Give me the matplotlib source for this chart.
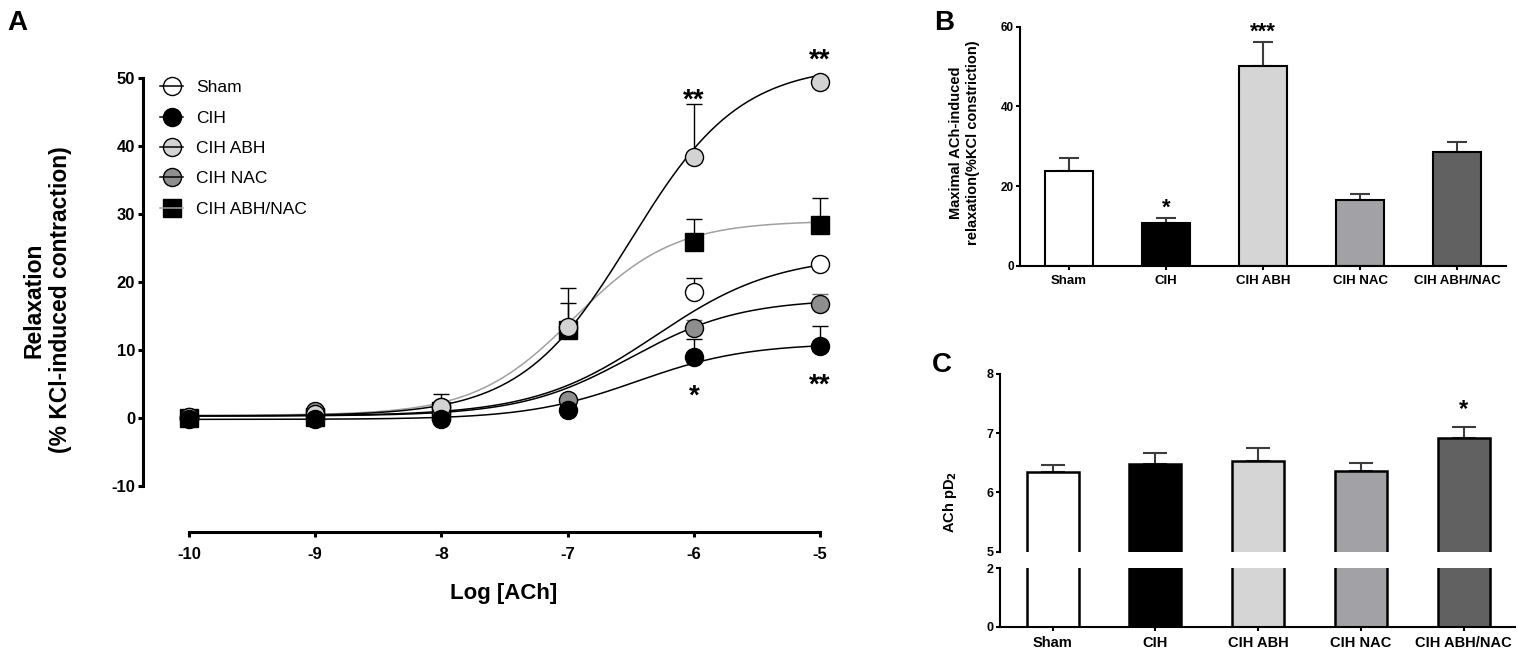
import numpy as np
import matplotlib
matplotlib.use('Agg')
import matplotlib.pyplot as plt
from matplotlib.lines import Line2D

plt.rcParams['font.family'] = ['Liberation Sans', 'DejaVu Sans']
plt.rcParams['axes.unicode_minus'] = False

# ---- data ----
groups = ['Sham', 'CIH', 'CIH ABH', 'CIH NAC', 'CIH ABH/NAC']
log_ach = [-10, -9, -8, -7, -6, -5]

relax_sham = [0.2, 0.5, 1.6, 13.3, 18.5, 22.7]
relax_cih = [-0.2, -0.2, -0.1, 1.2, 9.0, 10.6]
relax_abh = [0.1, 0.6, 1.6, 13.4, 38.4, 49.4]
relax_nac = [0.0, 1.0, 0.8, 2.7, 13.2, 16.8]
relax_abhnac = [0.0, 0.2, 1.0, 13.0, 25.9, 28.4]

err_sham = [0.3, 0.3, 0.5, 0.8, 2.1, 0.6]
err_cih = [0.3, 0.3, 0.3, 0.5, 2.6, 2.9]
err_abh = [0.3, 0.3, 1.9, 5.7, 7.8, 0.6]
err_nac = [0.3, 0.3, 0.3, 0.5, 1.2, 1.4]
err_abhnac = [0.3, 0.3, 0.3, 3.9, 3.4, 3.9]

# fitted sigmoid parameters: bottom, top, logEC50, hill slope
fit_sham = [0.3, 24.0, -6.3, 0.9]
fit_cih = [-0.2, 11.0, -6.45, 1.0]
fit_abh = [0.3, 52.0, -6.5, 1.0]
fit_nac = [0.3, 17.5, -6.5, 1.0]
fit_abhnac = [0.4, 29.0, -6.95, 1.1]

# significance marks in A: (series, log dose, stars, above?)
stars_a = [('abh', -6, '**', True), ('abh', -5, '**', True),
           ('cih', -6, '*', False), ('cih', -5, '**', False)]

max_relax = [23.8, 10.7, 50.1, 16.5, 28.7]
max_relax_err = [3.4, 1.4, 6.1, 1.6, 2.3]
stars_b = ['', '*', '***', '', '']

pd2 = [6.34, 6.48, 6.53, 6.36, 6.92]
pd2_err = [0.12, 0.18, 0.22, 0.13, 0.18]
stars_c = ['', '', '', '', '*']

bar_colors = ['white', 'black', '#d5d5d5', '#a2a2a6', '#616161']

W, H = 1518, 656
fig = plt.figure(figsize=(W / 100, H / 100), dpi=100)


def px_axes(l, t, r, b):
    return fig.add_axes([l / W, 1 - b / H, (r - l) / W, (b - t) / H])


def hill(x, p):
    bottom, top, ec50, slope = p
    return bottom + (top - bottom) / (1 + 10 ** ((ec50 - x) * slope))


def star(ax, x, y, s, fs):
    ax.annotate(s, xy=(x, y), xytext=(0, -0.57 * fs), textcoords='offset points',
                ha='center', va='baseline', fontsize=fs, fontweight='bold',
                annotation_clip=False)


def bold_ticks(ax):
    for t in ax.get_xticklabels() + ax.get_yticklabels():
        t.set_fontweight('bold')


# ---------------- panel A ----------------
ax = px_axes(143, 44, 839, 532)
ax.set_xlim(-10.364, -4.85)
ax.set_ylim(-16.76, 55)

series = {
    'sham': (relax_sham, err_sham, fit_sham, 'o', 'white', 'black', 'black', 3),
    'abhnac': (relax_abhnac, err_abhnac, fit_abhnac, 's', 'black', '#a0a0a0', 'black', 2),
    'nac': (relax_nac, err_nac, fit_nac, 'o', '#8e8e8e', 'black', '#6e6e6e', 4),
    'abh': (relax_abh, err_abh, fit_abh, 'o', '#d3d3d3', 'black', 'black', 5),
    'cih': (relax_cih, err_cih, fit_cih, 'o', 'black', 'black', 'black', 6),
}
xs = np.linspace(-10, -5, 300)
for key, (vals, errs, fit, mk, fc, lc, ec, z) in series.items():
    ax.plot(xs, hill(xs, fit), color=lc, lw=1.1, zorder=1.5)
    ax.errorbar(log_ach, vals, yerr=[np.zeros(len(errs)), errs], fmt='none',
                ecolor=ec, elinewidth=1.0, capsize=6, capthick=1.0, zorder=z - 0.5)
    ax.plot(log_ach, vals, ls='none', marker=mk, ms=13 if mk == 'o' else 12.5,
            mfc=fc, mec='black', mew=1.0, zorder=z)

lookup = {'abh': (relax_abh, err_abh), 'cih': (relax_cih, err_cih)}
for key, xv, s, above in stars_a:
    vals, errs = lookup[key]
    i = log_ach.index(xv)
    y = vals[i] + errs[i] + 1.7 if above else vals[i] - 4.6
    if above and errs[i] < 1.5:
        y = vals[i] + 4.4
    star(ax, xv, y, s, 20)

for s in ['top', 'right']:
    ax.spines[s].set_visible(False)
for s in ['left', 'bottom']:
    ax.spines[s].set_linewidth(2.2)
ax.spines['left'].set_bounds(-10, 50)
ax.spines['bottom'].set_bounds(-10, -5)
ax.set_xticks(log_ach)
ax.set_yticks(np.arange(-10, 51, 10))
ax.tick_params(axis='both', direction='out', length=3.6, width=2.2, labelsize=12)
ax.tick_params(axis='x', pad=7)
ax.tick_params(axis='y', pad=2)
bold_ticks(ax)

# legend: marker first, then the line drawn across it
leg_styles = [('o', 'white', 'black'), ('o', 'black', 'black'), ('o', '#d3d3d3', 'black'),
              ('o', '#8e8e8e', 'black'), ('s', 'black', '#a0a0a0')]
handles = []
for mk, fc, lc in leg_styles:
    m = Line2D([], [], ls='none', marker=mk, ms=13 if mk == 'o' else 12.5,
               mfc=fc, mec='black', mew=1.0)
    ln = Line2D([], [], color=lc, lw=1.1)
    handles.append((m, ln))
fig.legend(handles, groups, loc='upper left', bbox_to_anchor=(160 / W, 1 - 80 / H),
           frameon=False, fontsize=12.5, handlelength=1.35, handletextpad=0.75,
           labelspacing=0.88, borderpad=0, borderaxespad=0)

fig.text(47 / W, 1 - 300 / H, 'Relaxation\n(% KCl-induced contraction)', rotation=90,
         ha='center', va='center', fontsize=16.5, fontweight='bold', linespacing=1.22)
fig.text(504 / W, 1 - 593 / H, 'Log [ACh]', ha='center', va='center',
         fontsize=16, fontweight='bold')

# ---------------- panel B ----------------
xb = np.arange(len(groups))
axb = px_axes(1020, 26.7, 1506, 266)
axb.set_xlim(-0.505, 4.505)
axb.set_ylim(0, 60)
axb.errorbar(xb, max_relax, yerr=[np.zeros(5), max_relax_err], fmt='none',
             ecolor='#3c3c3c', elinewidth=1.5, capsize=7.5, capthick=1.5, zorder=1)
axb.bar(xb, max_relax, width=0.495, color=bar_colors, edgecolor='black', lw=1.5, zorder=2)
for i, s in enumerate(stars_b):
    if s:
        star(axb, i, max_relax[i] + max_relax_err[i] + 4.2, s, 16)
for s in ['top', 'right']:
    axb.spines[s].set_visible(False)
for s in ['left', 'bottom']:
    axb.spines[s].set_linewidth(1.5)
axb.set_yticks([0, 20, 40, 60])
axb.set_xticks(xb)
axb.set_xticklabels(groups)
axb.tick_params(axis='y', direction='out', length=3, width=1.5, labelsize=8.5, pad=1.5)
axb.tick_params(axis='x', direction='out', length=3, width=1.5, labelsize=9.5, pad=3.5)
bold_ticks(axb)
fig.text(964.5 / W, 1 - 143 / H, 'Maximal ACh-induced\nrelaxation(%KCl constriction)',
         rotation=90, ha='center', va='center', fontsize=10.5, fontweight='bold',
         linespacing=1.3)

# ---------------- panel C (broken axis) ----------------
axc1 = px_axes(1000, 374, 1515, 551.7)
axc2 = px_axes(1000, 568.3, 1515, 626.7)
for a, lo, hi in [(axc1, 5, 8), (axc2, 0, 2)]:
    a.set_xlim(-0.512, 4.50)
    a.set_ylim(lo, hi)
    a.errorbar(xb, pd2, yerr=[np.zeros(5), pd2_err], fmt='none', ecolor='#3c3c3c',
               elinewidth=1.5, capsize=8.5, capthick=1.5, zorder=1)
    a.bar(xb, pd2, width=0.506, color=bar_colors, edgecolor='black', lw=1.8, zorder=2)
    for s in ['top', 'right']:
        a.spines[s].set_visible(False)
    a.spines['left'].set_linewidth(1.5)
    a.spines['bottom'].set_linewidth(1.5)
    a.tick_params(axis='y', direction='out', length=3, width=1.5, labelsize=9, pad=1.5)
axc1.spines['bottom'].set_visible(False)
axc1.set_yticks([5, 6, 7, 8])
axc1.set_xticks([])
axc2.set_yticks([0, 2])
axc2.set_xticks(xb)
axc2.set_xticklabels(groups)
axc2.tick_params(axis='x', direction='out', length=3, width=1.5, labelsize=10.5, pad=4)
bold_ticks(axc1)
bold_ticks(axc2)
for i, s in enumerate(stars_c):
    if s:
        star(axc1, i, pd2[i] + pd2_err[i] + 0.41, s, 17)
fig.text(950 / W, 1 - 502 / H, r'ACh pD$_\mathbf{2}$', rotation=90, ha='center',
         va='center', fontsize=10.5, fontweight='bold')

# panel letters
for letter, x, y in [('A', 7, 10), ('B', 934, 10), ('C', 932, 352)]:
    fig.text(x / W, 1 - y / H, letter, ha='left', va='top', fontsize=20, fontweight='bold')

fig.savefig('out.png', dpi=100)
